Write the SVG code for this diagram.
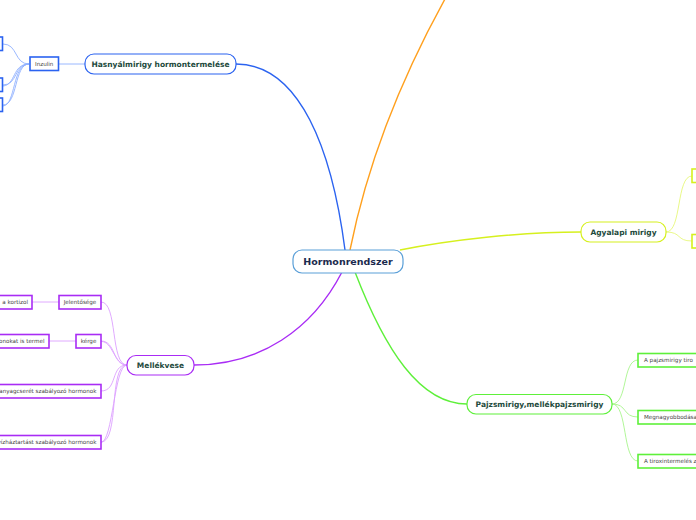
<svg xmlns="http://www.w3.org/2000/svg" width="696" height="520" viewBox="0 0 696 520">
<style>
.main{font-family:"DejaVu Sans",Verdana,sans-serif;font-weight:bold;font-size:7.5px;fill:#1d4a3c;text-anchor:middle}
.center{font-family:"DejaVu Sans",Verdana,sans-serif;font-weight:bold;font-size:9.5px;fill:#1b2a4e;text-anchor:middle}
.sub{font-family:"DejaVu Sans",Verdana,sans-serif;font-size:5.6px;fill:#444}
.c{fill:none}
rect{fill:#fff}
</style>
<rect x="0" y="0" width="696" height="520" fill="#fff"/>
<g id="connectors" class="c">
  <path d="M345,250 C332,150 300,64 236,64" stroke="#2b63f0" stroke-width="1.4"/>
  <path d="M350,250 C368,160 405,70 450,-10" stroke="#ffa01e" stroke-width="1.4"/>
  <path d="M400,250 C450,240 520,232 581,232" stroke="#d6f01e" stroke-width="1.4"/>
  <path d="M355,272 C385,350 420,404 467,404" stroke="#5ef03a" stroke-width="1.4"/>
  <path d="M342,272 C312,330 260,365 194,365" stroke="#a92cf5" stroke-width="1.4"/>
  <g stroke="#8fb0ff" stroke-width="0.9">
    <path d="M85,64 L59,64"/>
    <path d="M29,64 C14,64 18,44 3,44"/>
    <path d="M29,64 C14,64 18,85 3,85"/>
    <path d="M29,64 C14,64 18,105 3,105"/>
    <path d="M29,64 C12,64 16,85 3,86"/>
    <path d="M29,64 C12,64 16,105 3,106"/>
  </g>
  <g stroke="#e6f77a" stroke-width="0.9">
    <path d="M666,232 C682,232 676,176 692,176"/>
    <path d="M666,232 C682,232 676,241 692,241"/>
  </g>
  <g stroke="#a8f58c" stroke-width="0.9">
    <path d="M612,404 C628,404 622,360 638,360"/>
    <path d="M612,404 C628,404 622,417 638,417"/>
    <path d="M612,404 C628,404 622,461 638,461"/>
  </g>
  <g stroke="#dca0ff" stroke-width="0.9">
    <path d="M127,365 C110,365 118,302 101,302"/>
    <path d="M127,365 C112,365 116,341 101,341"/>
    <path d="M127,365 C110,365 118,391 101,391"/>
    <path d="M127,365 C108,365 120,442 101,442"/>
    <path d="M127,365 C114,365 113,341 101,341.5"/>
    <path d="M127,365 C114,365 113,442 101,442.5"/>
    <path d="M59,302 L32,302"/>
    <path d="M76,341 L49,341"/>
  </g>
</g>
<g id="n-center">
  <rect x="293" y="250" width="110" height="23" rx="9" stroke="#5a9fd8" stroke-width="1.2"/>
  <text class="center" x="348" y="265">Hormonrendszer</text>
</g>
<g id="n-hasnyal">
  <rect x="85" y="54" width="151" height="20" rx="9" stroke="#2b63f0" stroke-width="1.2"/>
  <text class="main" x="160.5" y="66.8">Hasnyálmirigy hormontermelése</text>
</g>
<g id="n-inzulin">
  <rect x="30" y="57" width="28.5" height="13.5" stroke="#2b63f0" stroke-width="1.6"/>
  <text class="sub" x="44.2" y="65.8" text-anchor="middle">Inzulin</text>
</g>
<g id="n-inz1"><rect x="-20" y="37" width="22.5" height="13.5" stroke="#2b63f0" stroke-width="1.6"/></g>
<g id="n-inz2"><rect x="-20" y="78" width="22.5" height="13.5" stroke="#2b63f0" stroke-width="1.6"/></g>
<g id="n-inz3"><rect x="-20" y="98" width="22.5" height="13.5" stroke="#2b63f0" stroke-width="1.6"/></g>
<g id="n-agyalapi">
  <rect x="581" y="222" width="85" height="20" rx="9" stroke="#d6f01e" stroke-width="1.2"/>
  <text class="main" x="623.5" y="234.8">Agyalapi mirigy</text>
</g>
<g id="n-agy1"><rect x="692" y="169" width="40" height="13.5" stroke="#d6f01e" stroke-width="1.6"/></g>
<g id="n-agy2"><rect x="692" y="234.5" width="40" height="13.5" stroke="#d6f01e" stroke-width="1.6"/></g>
<g id="n-pajzs">
  <rect x="467" y="394.5" width="145" height="19.5" rx="9" stroke="#5ef03a" stroke-width="1.2"/>
  <text class="main" x="539.5" y="407">Pajzsmirigy,mellékpajzsmirigy</text>
</g>
<g id="n-pajzs1">
  <rect x="638" y="353.5" width="120" height="13.5" stroke="#5ef03a" stroke-width="1.6"/>
  <text class="sub" x="644" y="362.2">A pajzsmirigy tiro</text>
</g>
<g id="n-pajzs2">
  <rect x="638" y="410.5" width="120" height="13.5" stroke="#5ef03a" stroke-width="1.6"/>
  <text class="sub" x="644" y="419.2">Megnagyobbodása</text>
</g>
<g id="n-pajzs3">
  <rect x="638" y="454.5" width="120" height="13.5" stroke="#5ef03a" stroke-width="1.6"/>
  <text class="sub" x="644" y="463.2">A tiroxintermelés z</text>
</g>
<g id="n-mellekvese">
  <rect x="127" y="355.5" width="67" height="19.5" rx="9" stroke="#a92cf5" stroke-width="1.2"/>
  <text class="main" x="160.5" y="368">Mellékvese</text>
</g>
<g id="n-jelentosege">
  <rect x="59" y="295.5" width="42" height="13.5" stroke="#a92cf5" stroke-width="1.6"/>
  <text class="sub" x="80" y="304.2" text-anchor="middle">Jelentősége</text>
</g>
<g id="n-kortizol">
  <rect x="-40" y="295.5" width="72" height="13.5" stroke="#a92cf5" stroke-width="1.6"/>
  <text class="sub" x="28" y="304.2" text-anchor="end">a kortizol</text>
</g>
<g id="n-kerge">
  <rect x="76" y="334.5" width="25" height="13.5" stroke="#a92cf5" stroke-width="1.6"/>
  <text class="sub" x="88.5" y="343.2" text-anchor="middle">kérge</text>
</g>
<g id="n-termel">
  <rect x="-40" y="334.5" width="89" height="13.5" stroke="#a92cf5" stroke-width="1.6"/>
  <text class="sub" x="44.5" y="343.2" text-anchor="end">onokat is termel</text>
</g>
<g id="n-anyagcsere">
  <rect x="-40" y="384.5" width="141" height="13.5" stroke="#a92cf5" stroke-width="1.6"/>
  <text class="sub" x="96.5" y="393.2" text-anchor="end">-anyagcserét szabályozó hormonok</text>
</g>
<g id="n-vizhaz">
  <rect x="-40" y="435.5" width="141" height="13.5" stroke="#a92cf5" stroke-width="1.6"/>
  <text class="sub" x="96.5" y="444.2" text-anchor="end">vízháztartást szabályozó hormonok</text>
</g>
</svg>
